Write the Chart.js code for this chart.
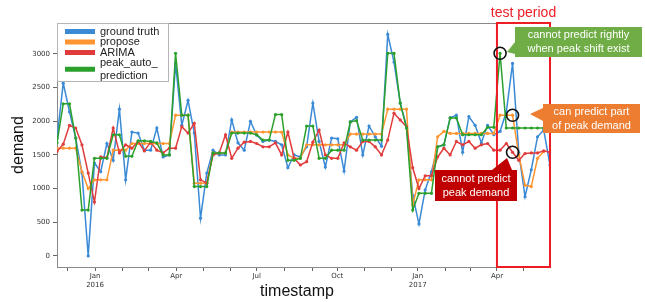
<!DOCTYPE html>
<html>
<head>
<meta charset="utf-8">
<script src="https://cdn.jsdelivr.net/npm/chart.js@4.4.1/dist/chart.umd.min.js"></script>
<style>
  html, body { margin: 0; padding: 0; background: #fff; }
  #wrap { width: 645px; height: 302px; }
</style>
</head>
<body>
<div id="wrap"><canvas id="chart" width="645" height="302"></canvas></div>
<script>
// weekly values, week 0 = mid Nov 2015 ... week 79 = end of May 2017
const groundTruth = [
  1750, 2566, 2140, 1750, 1230, 0, 1380, 1250, 1670, 1420,
  2180, 1130, 1840, 1825, 1570, 1570, 1900, 1470, 1500, 2860,
  1940, 2310, 1825, 560, 1230, 1570, 1500, 1500, 2020, 1680,
  1570, 2000, 1795, 1700, 1720, 1700, 1650, 1310, 1500, 1470,
  1620, 2270, 1700, 1320, 1750, 1740, 1260, 1990, 2060, 1500,
  1930, 1770, 1630, 3290, 2880, 2270, 1930, 900, 475, 980,
  1250, 1620, 1650, 2050, 2090, 1540, 2070, 1940, 1680, 1940,
  1800, 1850, 2140, 2860, 1530, 880, 1280, 1770, 1870, 1350
]
const propose = [
  1600, 1600, 1600, 1600, 1250, 1000, 1130, 1130, 1130, 1570,
  1570, 1570, 1670, 1670, 1670, 1670, 1670, 1670, 1670, 2090,
  2090, 2090, 1080, 1080, 1080, 1530, 1530, 1530, 1840, 1840,
  1840, 1840, 1840, 1840, 1840, 1840, 1840, 1500, 1450, 1450,
  1650, 1650, 1650, 1650, 1650, 1650, 1650, 1810, 1810, 1810,
  1810, 1810, 1810, 2180, 2180, 2180, 2180, 760, 1130, 1130,
  1130, 1770, 1850, 1820, 1820, 1820, 1820, 1820, 1820, 1820,
  1820, 2090, 2090, 2090, 1500, 1050, 1030, 1450, 1550, null
]
const arima = [
  1550, 1660, 1940, 1900, 1650, 1230, 800, 1470, 1460, 1900,
  1530, 1650, 1600, 1700, 1560, 1690, 1570, 1530, 1600, 1600,
  1920, 1825, 1970, 1130, 1080, 1500, 1530, 1800, 1450, 1600,
  1690, 1700, 1670, 1620, 1620, 1680, 1500, 1840, 1450, 1350,
  1400, 1690, 1870, 1500, 1450, 1450, 1680, 1620, 1570, 1700,
  1700, 1620, 1500, 1720, 2120, 2020, 1920, 1310, 1000, 1190,
  1190, 1470, 1600, 1500, 1700, 1650, 1700, 1600, 1650, 1670,
  1570, 1570, 1670, 1540, 1420, 1520, 1530, 1530, 1560, 1540
]
const peakAuto = [
  1680, 2260, 2260, 1750, 680, 680, 1450, 1450, 1450, 1800,
  1800, 1480, 1480, 1710, 1710, 1700, 1680, 1500, 1500, 3010,
  2090, 2090, 1030, 1030, 1030, 1530, 1530, 1530, 1825, 1825,
  1825, 1825, 1800, 1720, 1720, 2100, 2100, 1420, 1420, 1450,
  1930, 1930, 1450, 1450, 1570, 1570, 1570, 1990, 2010, 1720,
  1720, 1720, 1720, 3010, 3010, 2270, 1900, 680, 930, 930,
  930, 1620, 1650, 2050, 2050, 1800, 1800, 1800, 1800, 1910,
  1910, 3010, 1900, 1900, 1900, 1900, 1900, 1900, 1900, null
]

const seriesNames = ['ground truth', 'propose', 'ARIMA', 'peak_auto_\nprediction']
const seriesColors = ['#3a8ad6', '#ff9530', '#e03c3c', '#2ca02c']

// x tick positions in weeks
const majorTickWeeks = [6.1, 19.1, 32.0, 44.9, 57.8, 70.5]
const majorTickLabels = [['Jan', '2016'], 'Apr', 'Jul', 'Oct', ['Jan', '2017'], 'Apr']
const minorTickWeeks = [1.7, 10.5, 14.7, 23.4, 27.8, 36.5, 40.9, 49.3, 53.6, 62.3, 66.3, 74.8]
const yTicks = [0, 500, 1000, 1500, 2000, 2500, 3000]

const testStartWeek = 70.5
const testLabel = 'test period'

const toPoints = (arr) => arr.map((v, i) => ({ x: i, y: v }))

const xTicks = majorTickWeeks.map((w, i) => ({ value: w, lbl: majorTickLabels[i] }))
  .concat(minorTickWeeks.map(w => ({ value: w, lbl: '' })))
  .sort((a, b) => a.value - b.value)

const callouts = [
  { x: 515, y: 27, w: 127, h: 30, color: '#70ad47', lines: ['cannot predict rightly', 'when peak shift exist'],
    tail: [[515, 42], [515, 54], [507, 52]] },
  { x: 543, y: 104, w: 97, h: 29, color: '#ed7d31', lines: ['can predict part', 'of peak demand'],
    tail: [[543, 108], [543, 121], [530, 114]] },
  { x: 435, y: 170, w: 82, h: 31, color: '#c00000', lines: ['cannot predict', 'peak demand'],
    tail: [[492, 170], [512, 170], [507, 158]] }
]

const makeSet = (i, values) => ({
  label: seriesNames[i],
  data: toPoints(values),
  borderColor: seriesColors[i],
  backgroundColor: seriesColors[i],
  borderWidth: 1.5,
  pointRadius: 1.6,
  pointBorderWidth: 0,
  pointBackgroundColor: seriesColors[i],
  tension: 0,
  spanGaps: false,
  order: 4 - i
})

const overlay = {
  id: 'overlay',
  afterDatasetsDraw(chart) {
    const { ctx, chartArea: ca, scales: { x, y } } = chart
    ctx.save()

    // top / right spines
    ctx.strokeStyle = '#8a8a8a'
    ctx.lineWidth = 1
    ctx.beginPath()
    ctx.moveTo(ca.left, ca.top + 0.5)
    ctx.lineTo(ca.right - 0.5, ca.top + 0.5)
    ctx.lineTo(ca.right - 0.5, ca.bottom)
    ctx.stroke()

    // legend
    ctx.fillStyle = 'rgba(255,255,255,0.9)'
    ctx.fillRect(ca.left + 0.5, ca.top + 0.5, 111, 58)
    ctx.strokeStyle = '#b5b5b5'
    ctx.strokeRect(ca.left + 0.5, ca.top + 0.5, 111, 58)
    ctx.font = '11px "Liberation Sans", Arial, sans-serif'
    ctx.textAlign = 'left'
    ctx.textBaseline = 'middle'
    let cy = ca.top + 8.5
    seriesNames.forEach((name, i) => {
      const lines = name.split('\n')
      const mid = cy + (lines.length - 1) * 12.5 / 2
      ctx.strokeStyle = seriesColors[i]
      ctx.lineWidth = 5
      ctx.beginPath()
      ctx.moveTo(ca.left + 8, mid)
      ctx.lineTo(ca.left + 38, mid)
      ctx.stroke()
      ctx.fillStyle = '#222'
      lines.forEach((t, j) => ctx.fillText(t, ca.left + 43, cy + j * 12.5))
      cy += 10.5 + (lines.length - 1) * 12.5
    })

    // test period box
    const tx = x.getPixelForValue(testStartWeek)
    ctx.strokeStyle = '#ee1c24'
    ctx.lineWidth = 2
    ctx.strokeRect(tx, ca.top, ca.right - tx, ca.bottom - ca.top)
    ctx.fillStyle = '#ee1c24'
    ctx.font = '14px "Liberation Sans", Arial, sans-serif'
    ctx.textAlign = 'center'
    ctx.fillText(testLabel, (tx + ca.right) / 2, ca.top - 10)

    // callouts
    ctx.font = '11px "Liberation Sans", Arial, sans-serif'
    callouts.forEach(c => {
      ctx.fillStyle = c.color
      ctx.fillRect(c.x, c.y, c.w, c.h)
      ctx.beginPath()
      ctx.moveTo(c.tail[0][0], c.tail[0][1])
      ctx.lineTo(c.tail[1][0], c.tail[1][1])
      ctx.lineTo(c.tail[2][0], c.tail[2][1])
      ctx.closePath()
      ctx.fill()
      ctx.fillStyle = '#fff'
      const mid = c.y + c.h / 2
      ctx.fillText(c.lines[0], c.x + c.w / 2, mid - 7)
      ctx.fillText(c.lines[1], c.x + c.w / 2, mid + 7)
    })

    // circles on the points
    const marks = [[71, peakAuto[71]], [73, propose[73]], [73, arima[73]]]
    ctx.strokeStyle = '#111'
    ctx.lineWidth = 1.6
    marks.forEach(([wx, wy]) => {
      ctx.beginPath()
      ctx.arc(x.getPixelForValue(wx), y.getPixelForValue(wy), 6, 0, Math.PI * 2)
      ctx.stroke()
    })

    // axis titles
    ctx.fillStyle = '#111'
    ctx.font = '16px "Liberation Sans", Arial, sans-serif'
    ctx.fillText('timestamp', 297, 292)
    ctx.translate(19, (ca.top + ca.bottom) / 2)
    ctx.rotate(-Math.PI / 2)
    ctx.fillText('demand', 0, 0)

    ctx.restore()
  }
}

new Chart(document.getElementById('chart'), {
  type: 'line',
  data: {
    datasets: [
      makeSet(0, groundTruth),
      makeSet(1, propose),
      makeSet(2, arima),
      makeSet(3, peakAuto)
    ]
  },
  options: {
    responsive: false,
    animation: false,
    layout: { padding: { left: 0, right: 95, top: 23, bottom: 0 } },
    plugins: {
      legend: { display: false },
      tooltip: { enabled: false }
    },
    scales: {
      x: {
        type: 'linear',
        min: 0,
        max: 79,
        afterBuildTicks: (scale) => { scale.ticks = xTicks.map(t => ({ ...t })) },
        afterFit: (scale) => { scale.height = 35 },
        ticks: {
          autoSkip: false,
          maxRotation: 0,
          padding: 1,
          color: '#333',
          font: { family: 'DejaVu Sans', size: 7, lineHeight: 1.25 },
          callback: (v, i, t) => t[i].lbl || ''
        },
        grid: { drawOnChartArea: false, tickLength: 4, color: '#666' },
        border: { color: '#8a8a8a', width: 1 }
      },
      y: {
        min: -165,
        max: 3460,
        afterBuildTicks: (scale) => { scale.ticks = yTicks.map(v => ({ value: v })) },
        afterFit: (scale) => { scale.width = 57 },
        ticks: {
          padding: 3,
          color: '#333',
          font: { family: 'DejaVu Sans', size: 7 },
          callback: (v) => String(v)
        },
        grid: { drawOnChartArea: false, tickLength: 4, color: '#666' },
        border: { color: '#8a8a8a', width: 1 }
      }
    }
  },
  plugins: [overlay]
})
</script>
</body>
</html>
